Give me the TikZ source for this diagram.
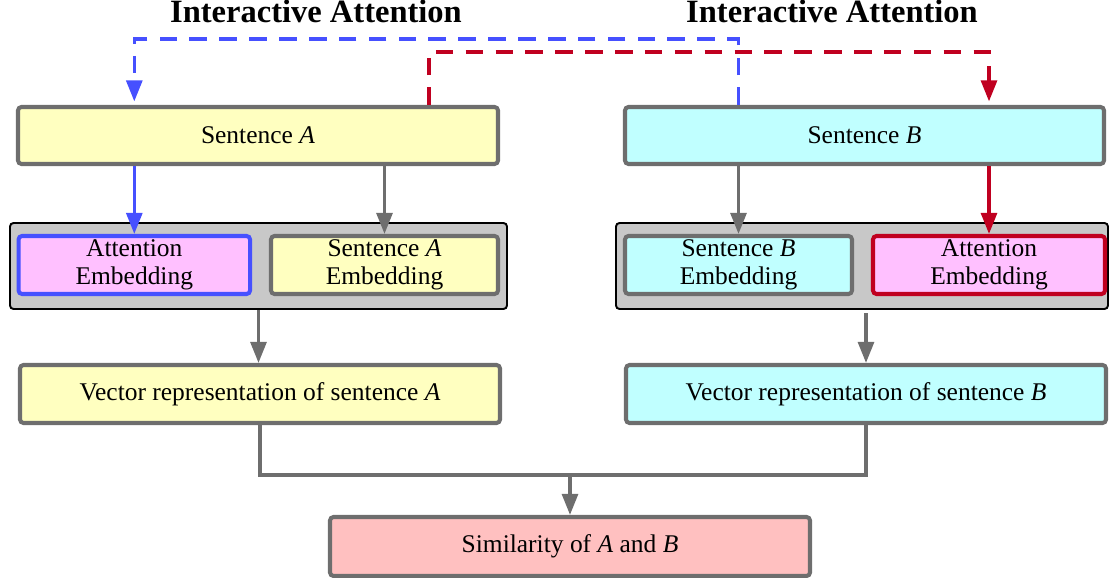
\documentclass[tikz,border=0pt]{standalone}
\usepackage{fontspec}
\setmainfont{Liberation Serif}
\usetikzlibrary{arrows.meta}
\definecolor{boxgray}{HTML}{6E6E6E}
\definecolor{panelgray}{HTML}{C8C8C8}
\definecolor{sentyellow}{HTML}{FFFFC0}
\definecolor{sentcyan}{HTML}{C0FFFF}
\definecolor{attpink}{HTML}{FFC0FF}
\definecolor{simred}{HTML}{FFC0C0}
\definecolor{attblue}{HTML}{4650FF}
\definecolor{attred}{HTML}{C00020}
\begin{document}
\begin{tikzpicture}[
    font=\fontsize{14.5}{16}\selectfont,
    box/.style={draw=boxgray, line width=2.3pt, rounded corners=2pt, minimum height=1.14cm, align=center, inner sep=0pt},
    panel/.style={draw=black, fill=panelgray, line width=1.1pt, rounded corners=2pt, minimum height=1.72cm},
    flow/.style={line width=2pt, -{Triangle[length=12pt,width=9pt]}},
    link/.style={line width=2pt, dash pattern=on 10pt off 7pt},
    heading/.style={font=\fontsize{18.5}{20}\selectfont\bfseries, anchor=base}
]
\useasboundingbox (0,0) rectangle (22.2,-11.56);

\node[heading] (ttlA) at (6.32,-0.46) {Interactive Attention};
\node[heading] (ttlB) at (16.64,-0.46) {Interactive Attention};

\node[box, fill=sentyellow, minimum width=9.6cm] (sa) at (5.16,-2.71) {Sentence \textit{A}};
\node[box, fill=sentcyan, minimum width=9.58cm] (sb) at (17.29,-2.71) {Sentence \textit{B}};

\node[panel, minimum width=9.94cm] (grpA) at (5.17,-5.32) {};
\node[panel, minimum width=9.84cm] (grpB) at (17.24,-5.32) {};

\node[box, draw=attblue, fill=attpink, minimum width=4.63cm, minimum height=1.16cm] (attA) at (2.686,-5.30) {Attention\\Embedding};
\node[box, fill=sentyellow, minimum width=4.54cm, minimum height=1.16cm] (embA) at (7.69,-5.30) {Sentence \textit{A}\\Embedding};
\node[box, fill=sentcyan, minimum width=4.54cm, minimum height=1.16cm] (embB) at (14.77,-5.30) {Sentence \textit{B}\\Embedding};
\node[box, draw=attred, fill=attpink, minimum width=4.64cm, minimum height=1.16cm] (attB) at (19.78,-5.30) {Attention\\Embedding};

\node[box, fill=sentyellow, minimum width=9.6cm, minimum height=1.16cm] (veca) at (5.2,-7.88) {Vector representation of sentence \textit{A}};
\node[box, fill=sentcyan, minimum width=9.6cm, minimum height=1.16cm] (vecb) at (17.32,-7.88) {Vector representation of sentence \textit{B}};

\node[box, fill=simred, minimum width=9.6cm, minimum height=1.18cm] (sim) at (11.4,-10.93) {Similarity of \textit{A} and \textit{B}};

\coordinate (redsrc) at ([xshift=-1.42cm]sa.north east);
\coordinate (merge) at (11.4,-9.5);

\draw[flow, attblue] (attA |- sa.south) -- (attA.north);
\draw[flow, boxgray] (embA |- sa.south) -- (embA.north);
\draw[flow, boxgray] (embB |- sb.south) -- (embB.north);
\draw[flow, attred] (attB |- sb.south) -- (attB.north);

\draw[flow, boxgray] (grpA.south) -- (grpA.south |- veca.north);
\draw[flow, boxgray] ([yshift=-2pt]vecb.north |- grpB.south) -- (vecb.north);

\draw[line width=2pt, boxgray] (veca.south) |- (merge) -| (vecb.south);
\draw[flow, boxgray] (merge) -- (sim.north);

\draw[link, attblue, -{Triangle[length=12pt,width=9pt]}] (embB |- sb.north) -- ++(0,1.32) -| ([yshift=2pt]attA |- sa.north);
\draw[link, attred, -{Triangle[length=12pt,width=9pt]}] (redsrc) -- ++(0,1.06) -| ([yshift=2pt]attB |- sb.north);
\end{tikzpicture}
\end{document}
